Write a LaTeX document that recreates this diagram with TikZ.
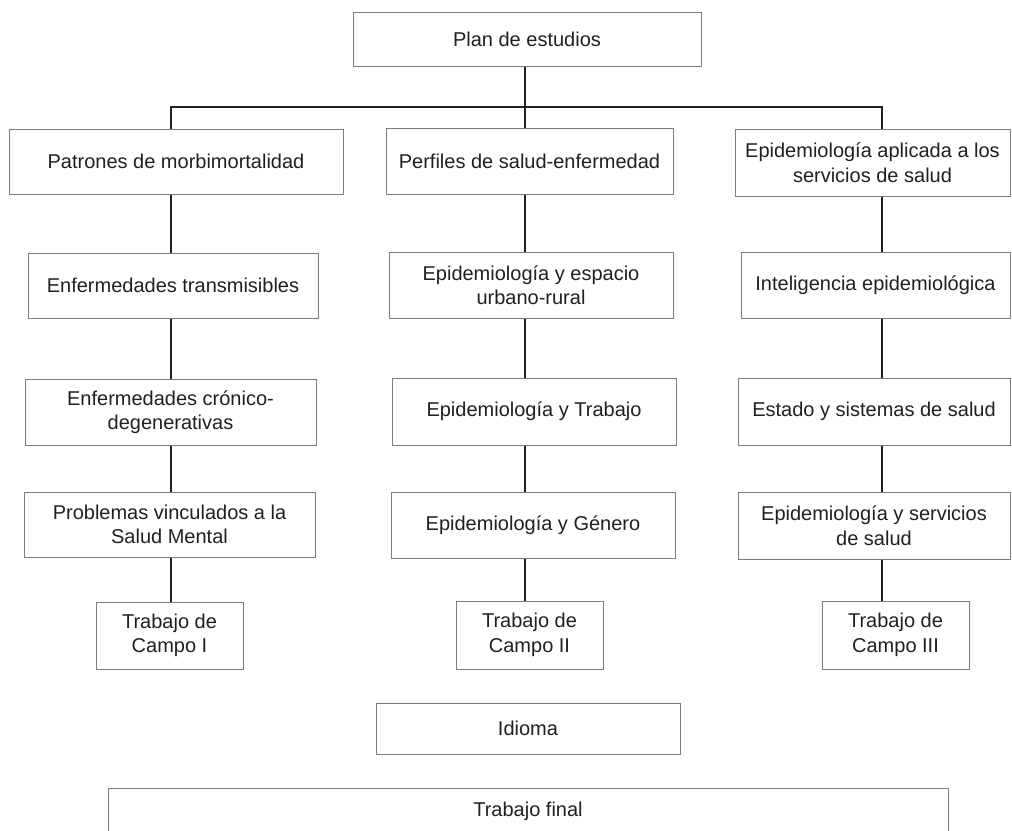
\documentclass[tikz,border=0pt]{standalone}
\usepackage{fontspec}
\setmainfont{Liberation Sans}
\definecolor{boxline}{RGB}{125,125,125}
\definecolor{txt}{RGB}{35,31,32}
\begin{document}
\begin{tikzpicture}[x=1pt, y=-1pt,
        bx/.style={draw=boxline, line width=1pt, minimum height=66pt, inner sep=0pt,
          align=center, text=txt, font=\fontsize{20}{24.5}\selectfont},
        ed/.style={line width=2pt, txt}
      ]
      \path[use as bounding box, clip] (0,0) rectangle (1012,830);
      % top
      \node[bx, minimum width=348pt, minimum height=54pt] (plan) at (527,39) {Plan de estudios};
      % column 1
      \node[bx, minimum width=334pt, minimum height=65pt] (pat) at (176,161.5) {Patrones de morbimortalidad};
      \node[bx, minimum width=290pt, minimum height=65pt] (enf) at (173,285.5) {Enfermedades transmisibles};
      \node[bx, minimum width=291pt] (cron) at (170.5,412) {Enfermedades crónico-\\degenerativas};
      \node[bx, minimum width=291pt, minimum height=65pt] (ment) at (169.5,524.5) {Problemas vinculados a la\\Salud Mental};
      \node[bx, minimum width=147pt, minimum height=67pt] (campoa) at (169.5,635.5) {Trabajo de\\Campo I};
      % column 2
      \node[bx, minimum width=287pt] (perf) at (529.5,161) {Perfiles de salud-enfermedad};
      \node[bx, minimum width=284pt] (esp) at (531,285) {Epidemiología y espacio\\urbano-rural};
      \node[bx, minimum width=284pt, minimum height=67pt] (trab) at (534,411.5) {Epidemiología y Trabajo};
      \node[bx, minimum width=284pt] (gen) at (533,525) {Epidemiología y Género};
      \node[bx, minimum width=147pt, minimum height=68pt] (campob) at (529.5,635) {Trabajo de\\Campo II};
      % column 3
      \node[bx, minimum width=275pt, minimum height=67pt] (apl) at (872.5,162.5) {Epidemiología aplicada a los\\servicios de salud};
      \node[bx, minimum width=269pt] (intel) at (875.5,285) {Inteligencia epidemiológica};
      \node[bx, minimum width=272pt, minimum height=67pt] (est) at (874,411.5) {Estado y sistemas de salud};
      \node[bx, minimum width=272pt, minimum height=67pt] (serv) at (874,525.5) {Epidemiología y servicios\\de salud};
      \node[bx, minimum width=147pt, minimum height=68pt] (campoc) at (895.5,635) {Trabajo de\\Campo III};
      % bottom
      \node[bx, minimum width=304pt, minimum height=51pt] (idioma) at (528,728.5) {Idioma};
      \node[bx, minimum width=840pt, minimum height=46pt] (final) at (528,811) {Trabajo final};
      % connectors
      \coordinate (s1) at (171,107);
      \coordinate (s2) at (525,107);
      \coordinate (s3) at (882,107);
      \draw[ed] (plan.south -| s2) -- (s2);
      \draw[ed] (pat.north -| s1) -- (s1) -- (s3) -- (apl.north -| s3);
      \draw[ed] (s2) -- (perf.north -| s2);
      \foreach \s/\a/\b in {s1/pat/enf, s1/enf/cron, s1/cron/ment, s1/ment/campoa,
          s2/perf/esp, s2/esp/trab, s2/trab/gen, s2/gen/campob,
          s3/apl/intel, s3/intel/est, s3/est/serv, s3/serv/campoc} {
        \draw[ed] (\a.south -| \s) -- (\b.north -| \s);
      }
    \end{tikzpicture}
\end{document}
